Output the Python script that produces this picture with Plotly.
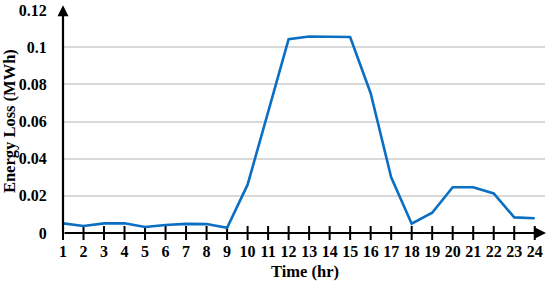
import plotly.graph_objects as go

hours = list(range(1, 25))
energy_loss = [0.0052, 0.0038, 0.0052, 0.0052, 0.0032, 0.0043, 0.0049, 0.0048, 0.0028, 0.026,
               0.065, 0.1043, 0.1057, 0.1058, 0.1055, 0.0752, 0.030, 0.005, 0.0109, 0.0246,
               0.0246, 0.0213, 0.0084, 0.0079]
y_ticks = [0, 0.02, 0.04, 0.06, 0.08, 0.1, 0.12]
y_labels = ["0", "0.02", "0.04", "0.06", "0.08", "0.1", "0.12"]

tick_font = dict(family="Liberation Serif", size=16, color="black", weight="bold")
title_font = dict(family="Liberation Serif", size=16.5, color="black")

fig = go.Figure()

# tick marks crossing the x axis
fig.add_trace(go.Scatter(x=hours, y=[0] * len(hours), mode="markers",
                         marker=dict(symbol="line-ns", size=10, line=dict(width=2, color="black")),
                         cliponaxis=False, hoverinfo="skip", showlegend=False))

fig.add_trace(go.Scatter(x=hours, y=energy_loss, mode="lines",
                         line=dict(color="#0A6FC2", width=2.6),
                         cliponaxis=False, showlegend=False))

# axes with arrowheads
fig.add_annotation(x=24.55, y=0, ax=1, ay=0, xref="x", yref="y", axref="x", ayref="y",
                   showarrow=True, arrowhead=2, arrowsize=1, arrowwidth=2.2, arrowcolor="black", text="")
fig.add_annotation(x=1, y=0.1225, ax=1, ay=0, xref="x", yref="y", axref="x", ayref="y",
                   showarrow=True, arrowhead=2, arrowsize=1, arrowwidth=2.2, arrowcolor="black", text="")

# axis titles
fig.add_annotation(text="<b>Time (hr)</b>", xref="paper", yref="paper", x=0.502, y=-0.172,
                   xanchor="center", yanchor="middle", showarrow=False, font=title_font)
fig.add_annotation(text="<b>Energy Loss (MWh)</b>", xref="paper", yref="paper", x=-0.112, y=0.502,
                   xanchor="center", yanchor="middle", showarrow=False, textangle=-90, font=title_font)

fig.update_layout(
    width=550, height=282,
    margin=dict(l=63, r=5, t=10, b=49),
    paper_bgcolor="white", plot_bgcolor="white",
    xaxis=dict(range=[1, 24.5], tickvals=hours, ticktext=[str(h) for h in hours],
               showgrid=False, zeroline=False, showline=False, automargin=False,
               ticks="outside", ticklen=4, tickcolor="rgba(0,0,0,0)", tickfont=tick_font),
    yaxis=dict(range=[0, 0.12], tickvals=y_ticks, ticktext=y_labels,
               showgrid=True, gridcolor="#D9D9D9", gridwidth=1.5, zeroline=False, showline=False,
               automargin=False,
               ticks="outside", ticklen=12, tickcolor="rgba(0,0,0,0)", tickfont=tick_font),
)

fig.write_html("out.html", config={"displayModeBar": False},
               post_script="document.body.style.margin='0';")
